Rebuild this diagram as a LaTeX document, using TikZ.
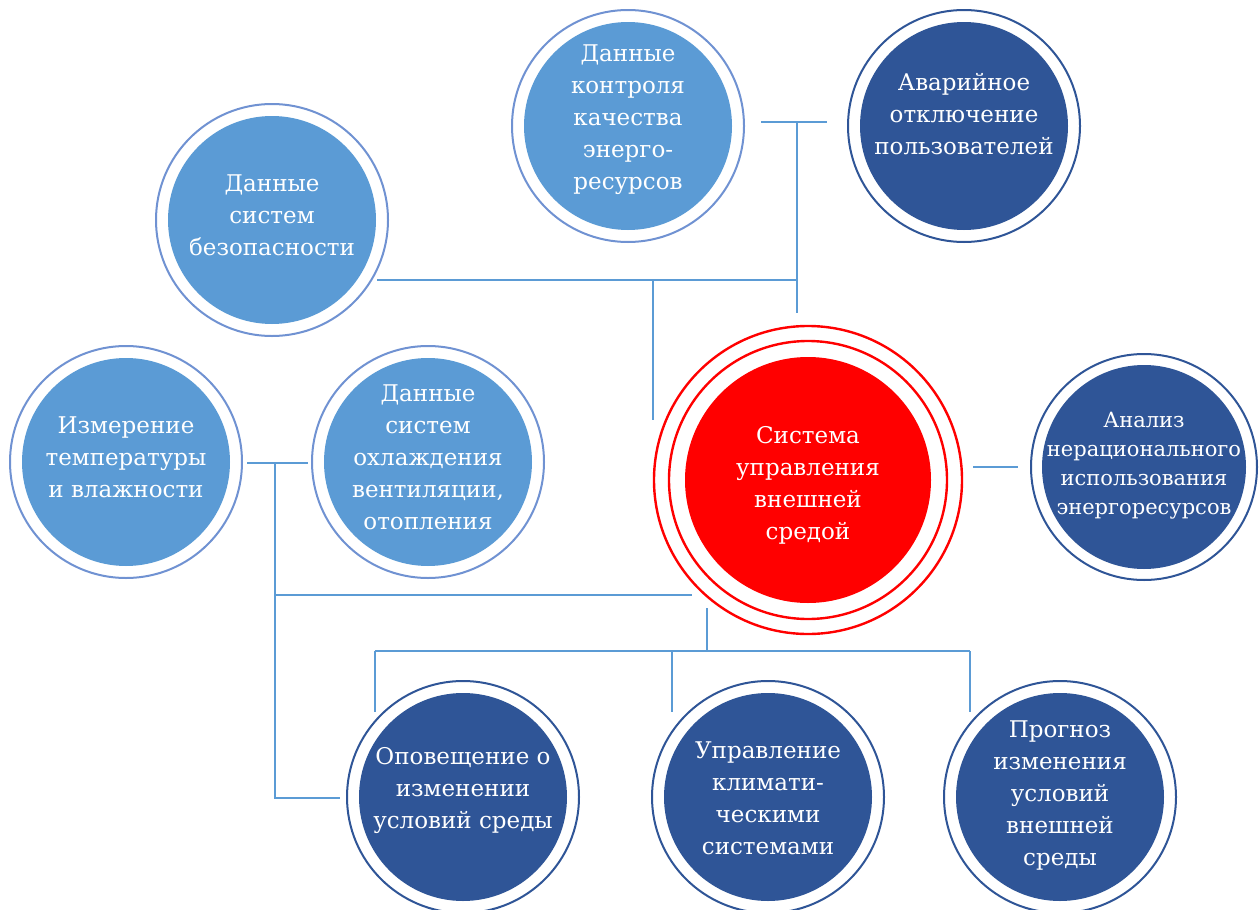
\documentclass[tikz,border=0pt]{standalone}
\usepackage{fontspec}
\setmainfont{DejaVu Serif}
\usetikzlibrary{calc}

\definecolor{lightfill}{RGB}{91,155,213}
\definecolor{lightring}{RGB}{112,146,210}
\definecolor{darkfill}{RGB}{47,85,151}
\definecolor{darkring}{RGB}{47,85,151}
\definecolor{wire}{RGB}{91,155,213}
\definecolor{core}{RGB}{255,0,0}

% white text block; its centre sits #1 above the centre of its bubble
% (the tabular is centred on the math axis, 0.25em above the baseline)
\newcommand{\bubbletext}[2][0pt]{%
  \raisebox{\dimexpr#1-0.25em\relax}[0pt][0pt]{\begin{tabular}{@{}c@{}}#2\end{tabular}}}

\tikzset{
  bubblefont/.style={font=\fontsize{23}{32}\selectfont},
  ringed/.style 2 args={circle, inner sep=0pt, minimum size=232pt,
    draw=#2, line width=2pt, fill=white, text=white, bubblefont,
    path picture={\fill[#1] (path picture bounding box.center) circle (104pt);}},
  lightbubble/.style={ringed={lightfill}{lightring}},
  darkbubble/.style={ringed={darkfill}{darkring}},
  corebubble/.style={circle, inner sep=0pt, minimum size=308pt,
    draw=core, line width=2.4pt, fill=white, text=white, bubblefont,
    path picture={
      \draw[core, line width=2.4pt] (path picture bounding box.center) circle (139pt);
      \fill[core] (path picture bounding box.center) circle (123pt);}},
  wireline/.style={draw=wire, line width=1.3pt}
}

\begin{document}
\begin{tikzpicture}[x=1pt, y=-1pt]
  \useasboundingbox (0,0) rectangle (1259,910);

  % bubbles
  \node[lightbubble] (quality) at (628,126)
    {\bubbletext[6pt]{Данные\\контроля\\качества\\энерго-\\ресурсов}};
  \node[darkbubble] (shutdown) at (964,126)
    {\bubbletext[9pt]{Аварийное\\отключение\\пользователей}};
  \node[lightbubble] (security) at (272,220)
    {\bubbletext[2pt]{Данные\\систем\\безопасности}};
  \node[lightbubble] (climate) at (126,462)
    {\bubbletext[2pt]{Измерение\\температуры\\и влажности}};
  \node[lightbubble] (hvac) at (428,462)
    {\bubbletext[2pt]{Данные\\систем\\охлаждения\\вентиляции,\\отопления}};
  \node[corebubble] (core) at (808,480)
    {\bubbletext[-6pt]{Система\\управления\\внешней\\средой}};
  \node[darkbubble, minimum size=226pt,
        path picture={\fill[darkfill] (path picture bounding box.center) circle (102pt);}]
    (waste) at (1144,467)
    {\fontsize{21}{29}\selectfont\bubbletext[2pt]{Анализ\\нерационального\\использования\\энергоресурсов}};
  \node[darkbubble] (notify) at (463,797)
    {\bubbletext[6pt]{Оповещение о\\изменении\\условий среды}};
  \node[darkbubble] (control) at (768,797)
    {\bubbletext[-4pt]{Управление\\климати-\\ческими\\системами}};
  \node[darkbubble] (forecast) at (1060,797)
    {\bubbletext[1pt]{Прогноз\\изменения\\условий\\внешней\\среды}};

  % wiring junctions
  \coordinate (qa) at (761,122);
  \coordinate (qb) at (827,122);
  \coordinate (qj) at (797,122);
  \coordinate (qd) at (797,313);
  \coordinate (sa) at (377,280);
  \coordinate (sj) at (797,280);
  \coordinate (st) at (653,280);
  \coordinate (sd) at (653,420);
  \coordinate (ha) at (247,463);
  \coordinate (hb) at (308,463);
  \coordinate (hj) at (275,463);
  \coordinate (hk) at (275,595);
  \coordinate (hd) at (275,798);
  \coordinate (he) at (340,798);
  \coordinate (ce) at (692,595);
  \coordinate (wa) at (973,467);
  \coordinate (wb) at (1018,467);
  \coordinate (cu) at (707,608);
  \coordinate (cj) at (707,651);
  \coordinate (bl) at (375,651);
  \coordinate (bm) at (672,651);
  \coordinate (br) at (970,651);
  \coordinate (bld) at (375,712);
  \coordinate (bmd) at (672,712);
  \coordinate (brd) at (970,712);

  % connectors
  \draw[wireline] (qa) -- (qb);
  \draw[wireline] (qj) -- (qd);
  \draw[wireline] (sa) -- (sj);
  \draw[wireline] (st) -- (sd);
  \draw[wireline] (ha) -- (hb);
  \draw[wireline] (hj) -- (hd) -- (he);
  \draw[wireline] (hk) -- (ce);
  \draw[wireline] (wa) -- (wb);
  \draw[wireline] (cu) -- (cj);
  \draw[wireline] (bl) -- (br);
  \draw[wireline] (bl) -- (bld);
  \draw[wireline] (bm) -- (bmd);
  \draw[wireline] (br) -- (brd);
\end{tikzpicture}
\end{document}
